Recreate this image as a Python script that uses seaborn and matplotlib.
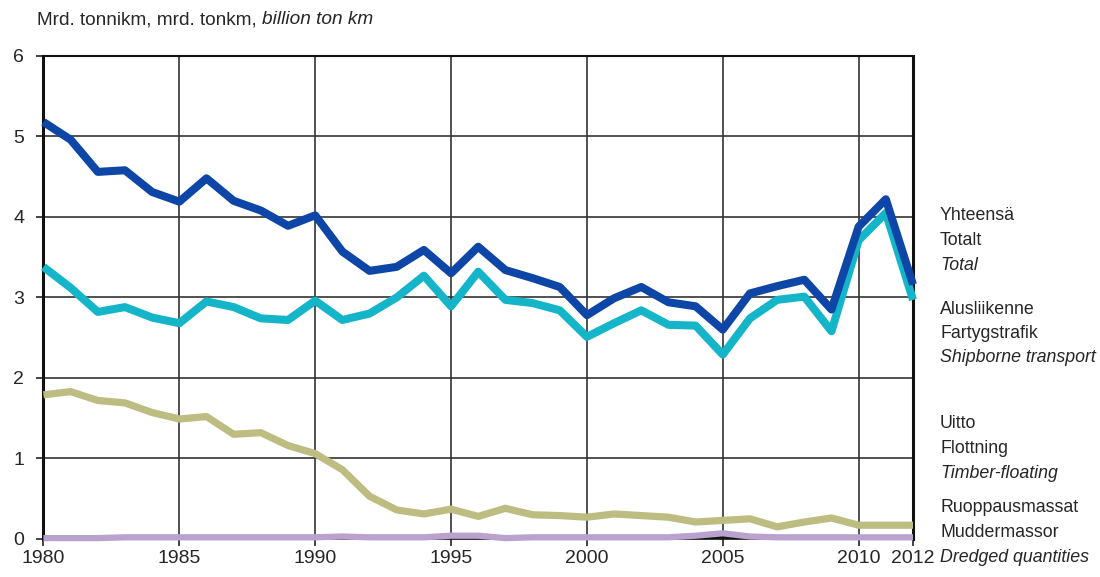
import numpy as np
import pandas as pd
import seaborn as sns
import matplotlib.pyplot as plt

years = list(range(1980, 2013))

total = [5.18, 4.96, 4.56, 4.58, 4.31, 4.19, 4.48, 4.20, 4.08, 3.89, 4.02,
         3.57, 3.33, 3.38, 3.59, 3.30, 3.63, 3.34, 3.24, 3.13, 2.78, 2.99,
         3.13, 2.94, 2.89, 2.60, 3.05, 3.14, 3.22, 2.85, 3.88, 4.22, 3.16]
shipborne = [3.38, 3.12, 2.82, 2.88, 2.75, 2.68, 2.95, 2.88, 2.74, 2.72, 2.96,
             2.72, 2.80, 3.00, 3.27, 2.89, 3.32, 2.97, 2.93, 2.84, 2.51, 2.68,
             2.84, 2.66, 2.65, 2.29, 2.74, 2.97, 3.01, 2.58, 3.71, 4.05, 2.97]
timber = [1.79, 1.83, 1.72, 1.69, 1.57, 1.49, 1.52, 1.30, 1.32, 1.16, 1.06,
          0.86, 0.53, 0.36, 0.31, 0.37, 0.28, 0.38, 0.30, 0.29, 0.27, 0.31,
          0.29, 0.27, 0.21, 0.23, 0.25, 0.15, 0.21, 0.26, 0.17, 0.17, 0.17]
dredged = [0.01, 0.01, 0.01, 0.02, 0.02, 0.02, 0.02, 0.02, 0.02, 0.02, 0.02,
           0.03, 0.02, 0.02, 0.02, 0.04, 0.04, 0.01, 0.02, 0.02, 0.02, 0.02,
           0.02, 0.02, 0.04, 0.07, 0.03, 0.02, 0.02, 0.02, 0.02, 0.02, 0.02]
other = [0.0] * 25 + [0.03] + [0.0] * 7

series_names = ['Muu', 'Ruoppausmassat', 'Uitto', 'Alusliikenne', 'Yhteensä']
series_values = [other, dredged, timber, shipborne, total]
colors = ['#111111', '#B9A2CE', '#BDBD82', '#14B4C9', '#0D46A6']
widths = [2.5, 4.5, 5.2, 5.8, 5.8]

label_blocks = [
    (216, ['Yhteensä', 'Totalt', 'Total']),
    (309, ['Alusliikenne', 'Fartygstrafik', 'Shipborne transport']),
    (424, ['Uitto', 'Flottning', 'Timber-floating']),
    (508, ['Ruoppausmassat', 'Muddermassor', 'Dredged quantities']),
]

x_ticks = [1980, 1985, 1990, 1995, 2000, 2005, 2010, 2012]

# long-form table for seaborn
df = pd.DataFrame({
    'year': years * len(series_names),
    'value': np.concatenate(series_values),
    'series': np.repeat(series_names, len(years)),
})

sns.set_style('white')
plt.rcParams['font.family'] = ['Liberation Sans', 'DejaVu Sans']

fig = plt.figure(figsize=(11, 5.77), dpi=100)
ax = fig.add_axes([0.0395, 0.066, 0.7905, 0.837])

sns.lineplot(data=df, x='year', y='value', hue='series', hue_order=series_names,
             palette=colors, ax=ax, legend=False)
for i, (line, w) in enumerate(zip(ax.get_lines(), widths)):
    line.set_linewidth(w)
    line.set_solid_capstyle('butt')
    line.set_clip_on(i == 0)
    line.set_zorder(3)

ax.set_xlim(1980, 2012)
ax.set_ylim(0, 6)
ax.set_xticks(x_ticks)
ax.set_yticks(range(0, 7))
ax.grid(True, color='#333333', linewidth=1.2)
ax.set_axisbelow(True)
ax.set_xlabel('')
ax.set_ylabel('')
ax.tick_params(axis='both', labelsize=14, length=5, width=1.2, color='#222222',
               direction='out', left=True, bottom=True, pad=3)
ax.tick_params(axis='y', pad=9)
for side in ['left', 'right', 'top', 'bottom']:
    ax.spines[side].set_color('#111111')
ax.spines['left'].set_linewidth(2.2)
ax.spines['right'].set_linewidth(2.2)
ax.spines['top'].set_linewidth(1.5)
ax.spines['bottom'].set_linewidth(1.2)

# title with italic part
t1 = fig.text(37 / 1100, 1 - 20 / 577, 'Mrd. tonnikm, mrd. tonkm, ',
              fontsize=13.7, va='center', ha='left')
fig.canvas.draw()
ax.annotate('billion ton km', xy=(1, 0), xycoords=t1, va='bottom', ha='left',
            fontsize=13.7, style='italic', annotation_clip=False)

# series labels on the right
for y0, lines in label_blocks:
    for i, txt in enumerate(lines):
        fig.text(940 / 1100, 1 - (y0 + i * 24.5) / 577, txt, fontsize=12.8,
                 va='center', ha='left', style='italic' if i == 2 else 'normal')

fig.savefig('out.png', dpi=100)
